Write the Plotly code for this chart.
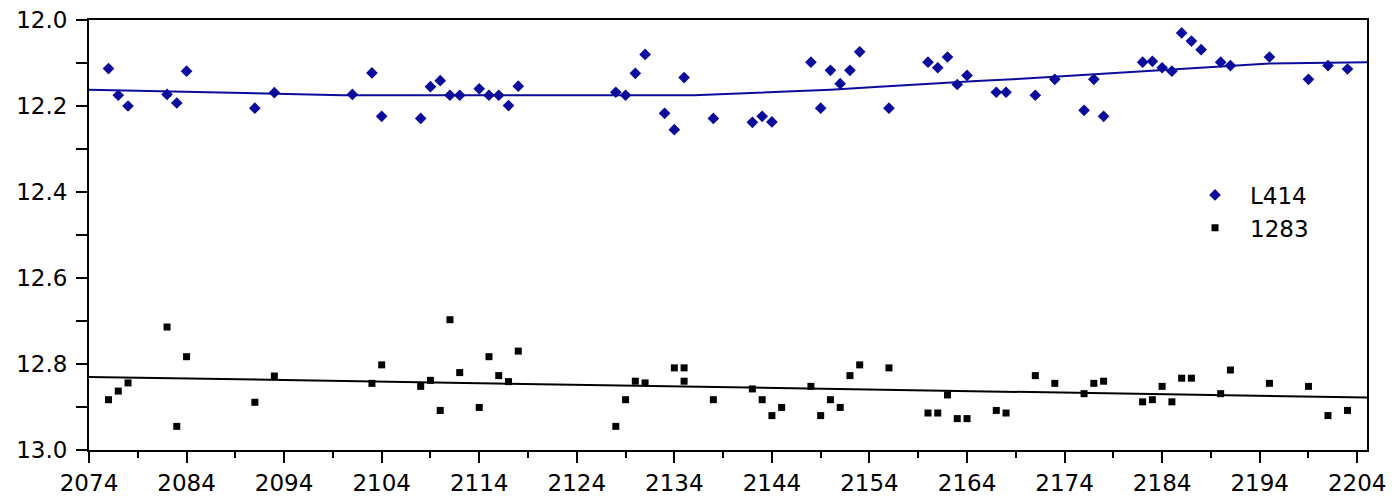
import plotly.graph_objects as go

# ---- data ----
x_L414 = [2076, 2077, 2078, 2082, 2083, 2084, 2091, 2093, 2101, 2103, 2104, 2108, 2109, 2110,
          2111, 2112, 2114, 2115, 2116, 2117, 2118, 2128, 2129, 2130, 2131, 2133, 2134, 2135,
          2138, 2142, 2143, 2144, 2148, 2149, 2150, 2151, 2152, 2153, 2156, 2160, 2161, 2162,
          2163, 2164, 2167, 2168, 2171, 2173, 2176, 2177, 2178, 2182, 2183, 2184, 2185, 2186,
          2187, 2188, 2190, 2191, 2195, 2199, 2201, 2203]
y_L414 = [12.113, 12.175, 12.200, 12.173, 12.193, 12.119, 12.205, 12.169, 12.173, 12.123,
          12.224, 12.229, 12.155, 12.141, 12.175, 12.175, 12.160, 12.175, 12.175, 12.199,
          12.154, 12.168, 12.175, 12.124, 12.080, 12.217, 12.255, 12.134, 12.229, 12.238,
          12.224, 12.237, 12.098, 12.205, 12.117, 12.148, 12.117, 12.074, 12.205, 12.098,
          12.111, 12.086, 12.150, 12.129, 12.168, 12.168, 12.175, 12.138, 12.210, 12.138,
          12.224, 12.098, 12.096, 12.111, 12.119, 12.030, 12.049, 12.069, 12.098, 12.106,
          12.086, 12.138, 12.106, 12.114]

x_1283 = [2076, 2077, 2078, 2082, 2083, 2084, 2091, 2093, 2103, 2104, 2108, 2109, 2110, 2111,
          2112, 2114, 2115, 2116, 2117, 2118, 2128, 2129, 2130, 2131, 2134, 2135, 2135, 2138,
          2142, 2143, 2144, 2145, 2148, 2149, 2150, 2151, 2152, 2153, 2156, 2160, 2161, 2162,
          2163, 2164, 2167, 2168, 2171, 2173, 2176, 2177, 2178, 2182, 2183, 2184, 2185, 2186,
          2187, 2190, 2191, 2195, 2199, 2201, 2203]
y_1283 = [12.883, 12.863, 12.844, 12.714, 12.945, 12.783, 12.889, 12.828, 12.845, 12.802,
          12.852, 12.838, 12.908, 12.697, 12.820, 12.901, 12.783, 12.827, 12.841, 12.770,
          12.945, 12.883, 12.840, 12.844, 12.809, 12.809, 12.840, 12.883, 12.858, 12.883,
          12.920, 12.901, 12.852, 12.920, 12.883, 12.901, 12.827, 12.802, 12.809, 12.914,
          12.914, 12.872, 12.927, 12.927, 12.908, 12.914, 12.827, 12.845, 12.869, 12.845,
          12.840, 12.888, 12.883, 12.852, 12.888, 12.833, 12.833, 12.869, 12.814, 12.845,
          12.852, 12.920, 12.908]

trend_L414_x = [2074, 2085, 2100, 2136, 2144, 2150, 2155, 2160, 2165, 2170, 2175, 2180, 2185,
                2190, 2195, 2205]
trend_L414_y = [12.162, 12.168, 12.175, 12.175, 12.167, 12.162, 12.155, 12.148, 12.142, 12.136,
                12.129, 12.121, 12.114, 12.107, 12.101, 12.098]

trend_1283_x = [2074, 2205]
trend_1283_y = [12.830, 12.878]

y_tickvals = [12.0, 12.2, 12.4, 12.6, 12.8, 13.0]
y_ticktext = ["12.0", "12.2", "12.4", "12.6", "12.8", "13.0"]

BLUE = "#0c0c9c"
FONT = "DejaVu Sans"

fig = go.Figure()
fig.add_trace(go.Scatter(x=trend_L414_x, y=trend_L414_y, mode="lines",
                         line=dict(color=BLUE, width=2), showlegend=False, hoverinfo="skip"))
fig.add_trace(go.Scatter(x=trend_1283_x, y=trend_1283_y, mode="lines",
                         line=dict(color="black", width=2), showlegend=False, hoverinfo="skip"))
fig.add_trace(go.Scatter(x=x_L414, y=y_L414, mode="markers", name="L414",
                         marker=dict(symbol="diamond", size=9, color=BLUE)))
fig.add_trace(go.Scatter(x=x_1283, y=y_1283, mode="markers", name="1283",
                         marker=dict(symbol="square", size=7, color="black")))

# the page body adds an 8px margin, so the figure is sized/offset to compensate
fig.update_layout(
    width=1388, height=489,
    margin=dict(l=81, r=29, t=12, b=47),
    paper_bgcolor="white", plot_bgcolor="white",
    font=dict(family=FONT, size=23, color="black"),
    legend=dict(x=0.8537, y=0.643, xanchor="left", yanchor="top",
                bgcolor="rgba(0,0,0,0)", borderwidth=0, font=dict(size=23),
                itemsizing="trace", itemwidth=60, tracegroupgap=0),
)
fig.update_xaxes(
    range=[2074, 2205], tick0=2074, dtick=10, automargin=False,
    ticklabeloverflow="allow",
    showgrid=False, zeroline=False,
    showline=True, linecolor="black", linewidth=2, mirror=True,
    ticks="outside", ticklen=11, tickwidth=2, tickcolor="black",
    minor=dict(dtick=5, tick0=2074, ticks="outside", ticklen=6, tickwidth=2, tickcolor="black",
               showgrid=False),
    tickfont=dict(family=FONT, size=23),
)
fig.update_yaxes(
    range=[13.0, 12.0], tickvals=y_tickvals, ticktext=y_ticktext, automargin=False,
    ticklabeloverflow="allow",
    showgrid=False, zeroline=False,
    showline=True, linecolor="black", linewidth=2, mirror=True,
    ticks="outside", ticklen=11, tickwidth=2, tickcolor="black", ticklabelstandoff=4,
    minor=dict(dtick=0.1, tick0=12.0, ticks="outside", ticklen=11, tickwidth=2,
               tickcolor="black", showgrid=False),
    tickfont=dict(family=FONT, size=23),
)

fig.write_html("out.html")
